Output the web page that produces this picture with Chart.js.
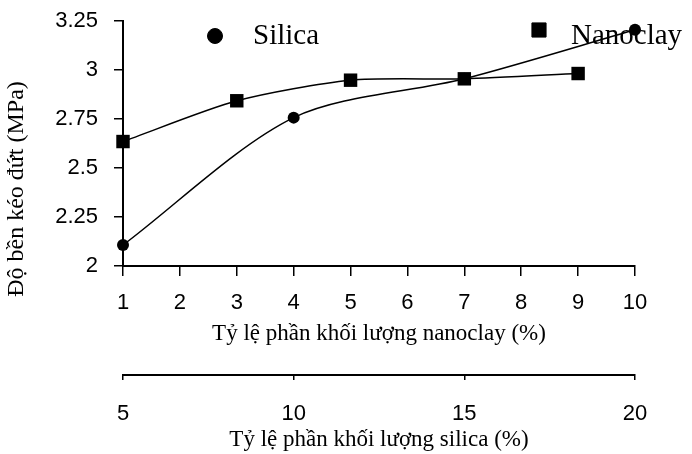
<!DOCTYPE html>
<html>
<head>
<meta charset="utf-8">
<script src="https://cdn.jsdelivr.net/npm/chart.js@4.4.1/dist/chart.umd.min.js"></script>
<style>
html,body{margin:0;padding:0;background:#fff;}
#wrap{position:relative;width:692px;height:454px;}
</style>
</head>
<body>
<div id="wrap"><canvas id="c"></canvas></div>
<script>
// ---- data ----
const nanoclayX = [1, 3, 5, 7, 9];
const nanoclayY = [2.635, 2.843, 2.948, 2.955, 2.982];
const silicaX = [5, 10, 15, 20];
const silicaY = [2.107, 2.757, 2.955, 3.205];
const yTicks = [2, 2.25, 2.5, 2.75, 3, 3.25];
const nanoclayTicks = [1, 2, 3, 4, 5, 6, 7, 8, 9, 10];
const silicaTicks = [5, 10, 15, 20];
const seriesLabels = ['Silica', 'Nanoclay'];
const yTitle = 'Độ bền kéo đứt (MPa)';
const xTitle = 'Tỷ lệ phần khối lượng nanoclay (%)';
const x2Title = 'Tỷ lệ phần khối lượng silica (%)';

const SANS = "'Liberation Sans', Arial, sans-serif";
const SERIF = "'Liberation Serif', 'Times New Roman', serif";

const toPts = (xs, ys) => xs.map((x, i) => ({x: x, y: ys[i]}));

const legendAndTitle = {
  id: 'legendAndTitle',
  afterDraw(chart) {
    const ctx = chart.ctx;
    ctx.save();
    const items = [
      {ds: chart.data.datasets[0], mx: 215, my: 36, r: 7.5, tx: 253, ty: 36},
      {ds: chart.data.datasets[1], mx: 539, my: 30, r: 10, tx: 571, ty: 36}
    ];
    items.forEach(it => {
      ctx.fillStyle = '#000';
      ctx.strokeStyle = '#000';
      ctx.lineWidth = 1;
      Chart.helpers.drawPoint(ctx, {pointStyle: it.ds.pointStyle, radius: it.r, rotation: 0, borderWidth: 1}, it.mx, it.my);
      ctx.font = '29px ' + SERIF;
      ctx.textBaseline = 'middle';
      ctx.textAlign = 'left';
      ctx.fillText(it.ds.label, it.tx, it.ty);
    });
    ctx.translate(17, 189);
    ctx.rotate(-Math.PI / 2);
    ctx.font = '24px ' + SERIF;
    ctx.textAlign = 'center';
    ctx.textBaseline = 'middle';
    ctx.fillStyle = '#000';
    ctx.fillText(yTitle, 0, 0);
    ctx.restore();
  }
};

const fmt = v => String(v);

new Chart(document.getElementById('c'), {
  type: 'scatter',
  data: {
    datasets: [
      {
        label: seriesLabels[0],
        data: toPts(silicaX, silicaY),
        xAxisID: 'x2', yAxisID: 'y',
        showLine: true,
        tension: 0.3,
        clip: false,
        borderColor: '#000', backgroundColor: '#000',
        borderWidth: 1.5,
        pointStyle: 'circle', pointRadius: 6, pointHoverRadius: 6,
        pointBorderWidth: 0
      },
      {
        label: seriesLabels[1],
        data: toPts(nanoclayX, nanoclayY),
        xAxisID: 'x', yAxisID: 'y',
        showLine: true,
        tension: 0.25,
        clip: false,
        borderColor: '#000', backgroundColor: '#000',
        borderWidth: 1.5,
        pointStyle: 'rect', pointRadius: 9.5, pointHoverRadius: 9.5,
        pointBorderWidth: 0
      }
    ]
  },
  plugins: [legendAndTitle],
  options: {
    responsive: true,
    maintainAspectRatio: false,
    animation: false,
    layout: {padding: {top: 21, right: 57, left: 0, bottom: 0}},
    plugins: {legend: {display: false}, tooltip: {enabled: false}},
    scales: {
      x: {
        type: 'linear', position: 'bottom',
        min: nanoclayTicks[0], max: nanoclayTicks[nanoclayTicks.length - 1],
        afterBuildTicks: s => { s.ticks = nanoclayTicks.map(v => ({value: v})); },
        afterFit: s => { s.height = 109; s.paddingLeft = 0; s.paddingRight = 0; },
        grid: {drawOnChartArea: false, color: '#000', tickLength: 10, lineWidth: 1.5},
        border: {color: '#000', width: 2},
        ticks: {color: '#000', font: {family: SANS, size: 22}, padding: 14, maxRotation: 0, autoSkip: false, callback: fmt},
        title: {display: true, text: xTitle, color: '#000', font: {family: SERIF, size: 23}, padding: {top: 0, bottom: 27}}
      },
      x2: {
        type: 'linear', position: 'bottom',
        min: silicaTicks[0], max: silicaTicks[silicaTicks.length - 1],
        afterBuildTicks: s => { s.ticks = silicaTicks.map(v => ({value: v})); },
        afterFit: s => { s.height = 79; s.paddingLeft = 0; s.paddingRight = 0; },
        grid: {drawOnChartArea: false, color: '#000', tickLength: 5, lineWidth: 1.5},
        border: {color: '#000', width: 2},
        ticks: {color: '#000', font: {family: SANS, size: 22}, padding: 21, maxRotation: 0, autoSkip: false, callback: fmt},
        title: {display: true, text: x2Title, color: '#000', font: {family: SERIF, size: 23}, padding: {top: 0, bottom: 0}}
      },
      y: {
        type: 'linear', position: 'left',
        min: yTicks[0], max: yTicks[yTicks.length - 1],
        afterBuildTicks: s => { s.ticks = yTicks.map(v => ({value: v})); },
        afterFit: s => { s.width = 123; s.paddingTop = 0; s.paddingBottom = 0; },
        grid: {drawOnChartArea: false, color: '#000', tickLength: 9, lineWidth: 1.5},
        border: {color: '#000', width: 2},
        ticks: {color: '#000', font: {family: SANS, size: 22}, padding: 16, callback: fmt},
        title: {display: false}
      }
    }
  }
});
</script>
</body>
</html>
